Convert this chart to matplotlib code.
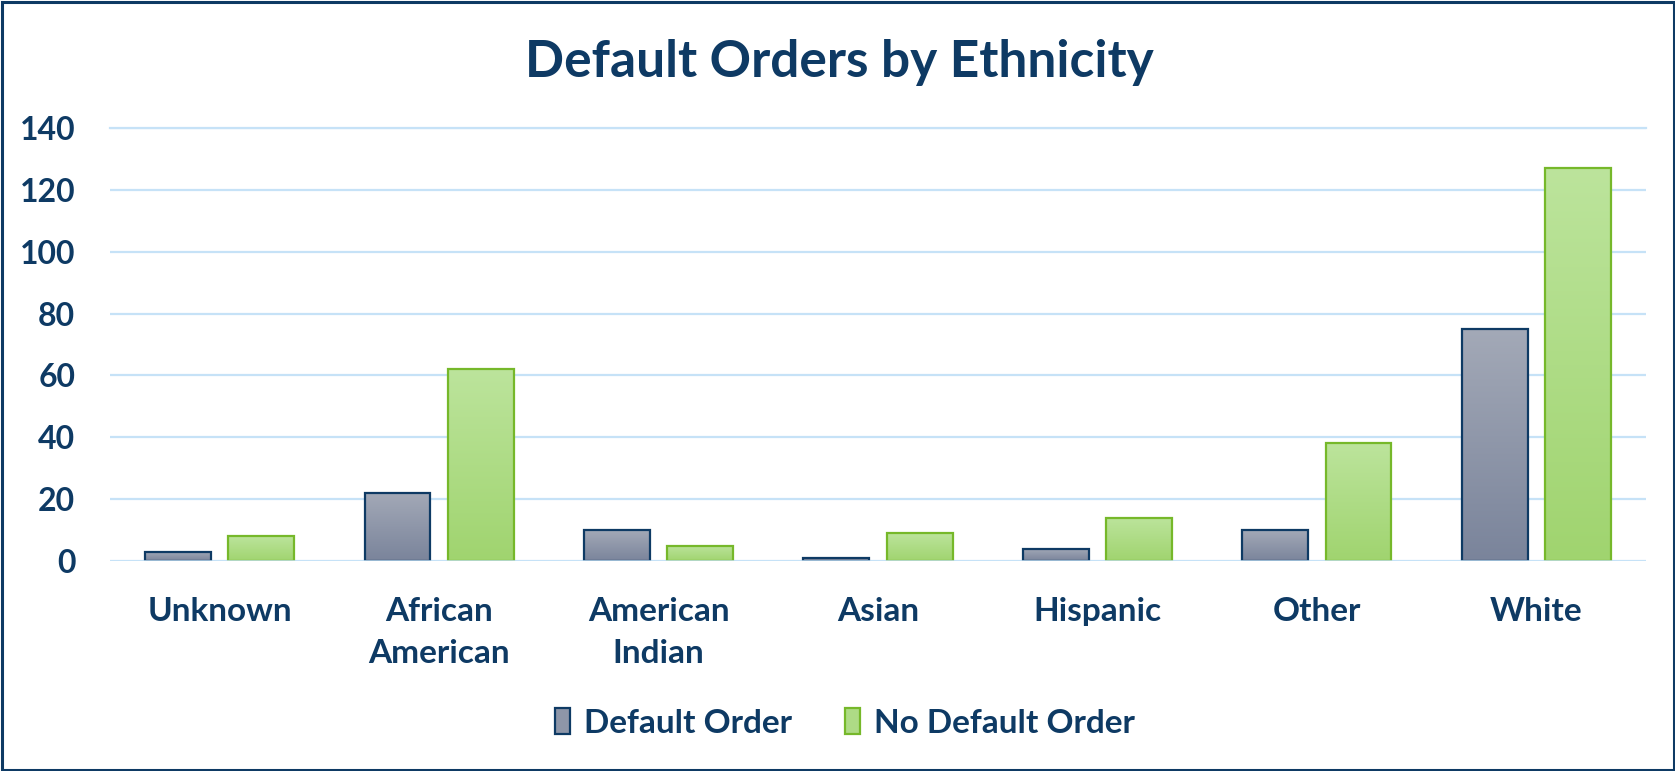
import numpy as np
import matplotlib
matplotlib.use("Agg")
import matplotlib.pyplot as plt
from matplotlib.colors import LinearSegmentedColormap
from matplotlib.patches import Rectangle

categories = ["Unknown", "African\nAmerican", "American\nIndian", "Asian", "Hispanic", "Other", "White"]
default_order = [3, 22, 10, 1, 4, 10, 75]
no_default_order = [8, 62, 5, 9, 14, 38, 127]
series_names = ["Default Order", "No Default Order"]
y_ticks = [0, 20, 40, 60, 80, 100, 120, 140]
title = "Default Orders by Ethnicity"

NAVY = "#0E3A64"
GREEN_EDGE = "#76B82A"
GRID = "#C6E2F7"

plt.rcParams['font.family'] = ['Lato', 'DejaVu Sans']
plt.rcParams['font.weight'] = 'bold'

W, H = 1675, 771
fig = plt.figure(figsize=(W / 100, H / 100), dpi=100)
fig.patch.set_facecolor("white")
ax = fig.add_axes([110 / W, 1 - 561 / H, 1536 / W, (561 - 128) / H])

x = np.arange(len(categories))
bw = 0.30
off = 0.19
b1 = ax.bar(x - off, default_order, bw, facecolor='none', edgecolor=NAVY, lw=1.6, zorder=3)
b2 = ax.bar(x + off, no_default_order, bw, facecolor='none', edgecolor=GREEN_EDGE, lw=1.6, zorder=3)

cm1 = LinearSegmentedColormap.from_list('d', ['#7A849B', '#A3A9B7'])
cm2 = LinearSegmentedColormap.from_list('g', ['#A0D46F', '#BCE49C'])
grad = np.linspace(0, 1, 256).reshape(-1, 1)
for bars, cm in ((b1, cm1), (b2, cm2)):
    for p in bars:
        x0, y0 = p.get_x(), p.get_y()
        pw, ph = p.get_width(), p.get_height()
        ax.imshow(grad, extent=[x0, x0 + pw, y0, y0 + ph], origin='lower',
                  cmap=cm, aspect='auto', zorder=2, interpolation='bilinear')

ax.set_xlim(-0.5, len(categories) - 0.5)
ax.set_ylim(0, 140)
ax.set_yticks(y_ticks)
ax.set_xticks(x)
ax.set_xticklabels(categories, linespacing=1.55)
ax.set_aspect('auto')

for sp in ax.spines.values():
    sp.set_visible(False)
ax.yaxis.grid(True, color=GRID, lw=1.6, zorder=0)
ax.set_axisbelow(True)
ax.axhline(0, color=GRID, lw=1.8, zorder=5)
for yv in y_ticks[-1:]:
    ax.axhline(yv, color=GRID, lw=1.6, zorder=0, clip_on=False)

ax.tick_params(axis='y', length=0, labelsize=23, labelcolor=NAVY, pad=25)
ax.tick_params(axis='x', length=0, labelsize=24, labelcolor=NAVY, pad=26)
for t in ax.get_xticklabels() + ax.get_yticklabels():
    t.set_fontweight('bold')

fig.text(839 / W, 1 - 77 / H, title, ha='center', va='baseline',
         fontsize=37, fontweight='bold', color=NAVY)

handles = [Rectangle((0, 0), 1, 1, facecolor='#8E96A8', edgecolor=NAVY, lw=1.6),
           Rectangle((0, 0), 1, 1, facecolor='#AEDB86', edgecolor=GREEN_EDGE, lw=1.6)]
leg = fig.legend(handles, series_names, loc='center', bbox_to_anchor=(845 / W, 1 - 723 / H),
                 ncol=2, frameon=False, fontsize=24, handlelength=0.45, handleheight=0.8,
                 handletextpad=0.42, columnspacing=1.6, labelcolor=NAVY,
                 prop={'weight': 'bold', 'size': 24})

fig.patches.append(Rectangle((1.5 / W, 1.5 / H), 1 - 3 / W, 1 - 3 / H, transform=fig.transFigure,
                             fill=False, edgecolor=NAVY, lw=2.2, zorder=10))

fig.savefig("out.png", dpi=100, facecolor="white")
